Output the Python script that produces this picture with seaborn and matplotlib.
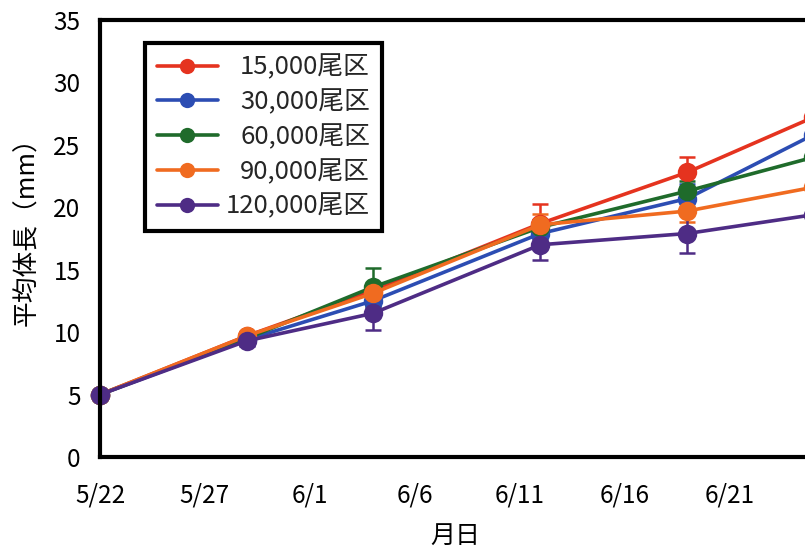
import matplotlib
matplotlib.use("Agg")
import matplotlib.pyplot as plt
from matplotlib.lines import Line2D
import seaborn as sns
import pandas as pd

# ---- data ----
dates = ["2010-05-22", "2010-05-29", "2010-06-04", "2010-06-12", "2010-06-19", "2010-06-25"]
groups = ["15,000尾区", "30,000尾区", "60,000尾区", "90,000尾区", "120,000尾区"]
len_15000 = [5.0, 9.7, 13.3, 18.7, 22.8, 27.2]
len_30000 = [5.0, 9.4, 12.5, 17.9, 20.7, 25.8]
len_60000 = [5.0, 9.5, 13.6, 18.4, 21.3, 24.0]
len_90000 = [5.0, 9.7, 13.1, 18.6, 19.7, 21.6]
len_120000 = [5.0, 9.3, 11.5, 17.0, 17.9, 19.4]
err_15000 = [0.1, 0.3, 0.5, 1.6, 1.2, 1.8]
err_30000 = [0.1, 0.3, 0.5, 0.7, 1.2, 0.8]
err_60000 = [0.1, 0.3, 1.5, 0.6, 0.8, 0.8]
err_90000 = [0.1, 0.3, 0.5, 0.9, 0.9, 0.8]
err_120000 = [0.1, 0.4, 1.3, 1.2, 1.6, 0.8]
tick_dates = ["2010-05-22", "2010-05-27", "2010-06-01", "2010-06-06",
              "2010-06-11", "2010-06-16", "2010-06-21"]
tick_labels = ["5/22", "5/27", "6/1", "6/6", "6/11", "6/16", "6/21"]
y_ticks = [0, 5, 10, 15, 20, 25, 30, 35]

colors = ["#E5331F", "#2C4DB3", "#1F6B2B", "#F06B20", "#4E2C85"]

series = [len_15000, len_30000, len_60000, len_90000, len_120000]
errors = [err_15000, err_30000, err_60000, err_90000, err_120000]

rows = []
for g, vals, errs in zip(groups, series, errors):
    for d, v, e in zip(dates, vals, errs):
        rows.append({"date": pd.Timestamp(d), "length": v, "err": e, "group": g})
df = pd.DataFrame(rows)

sns.set_theme(style="white")
plt.rcParams["font.family"] = ["Noto Sans CJK JP", "DejaVu Sans"]

fig = plt.figure(figsize=(8.05, 5.5), dpi=100)
ax = fig.add_axes([100 / 805, 93 / 550, 776 / 805, 437 / 550])

# error bars beneath the markers
for g, c in zip(groups, colors):
    sub = df[df["group"] == g]
    ax.errorbar(sub["date"], sub["length"], yerr=sub["err"], fmt="none",
                ecolor=c, elinewidth=1.8, capsize=6, capthick=1.8,
                zorder=1.5, clip_on=False)

sns.lineplot(data=df, x="date", y="length", hue="group", hue_order=groups,
             palette=colors, marker="o", markersize=14, markeredgewidth=0,
             linewidth=2.6, legend=False, ax=ax, clip_on=False, zorder=2)

ax.set_ylim(0, 35)
ax.set_xlim(pd.Timestamp("2010-05-22"), pd.Timestamp("2010-06-28"))
ax.set_yticks(y_ticks)
ax.set_yticklabels([str(v) for v in y_ticks])
ax.set_xticks([pd.Timestamp(d) for d in tick_dates])
ax.set_xticklabels(tick_labels)

ax.tick_params(axis="both", direction="in", length=6, width=2.5,
               labelsize=17.5, colors="black", labelcolor="black")
ax.tick_params(axis="y", pad=14)
ax.tick_params(axis="x", pad=18.5)

for side in ["left", "bottom", "top"]:
    ax.spines[side].set_linewidth(3)
    ax.spines[side].set_color("black")
ax.spines["right"].set_visible(False)

ax.set_xlabel("月日", fontsize=18, color="black")
ax.xaxis.set_label_coords(355 / 776, -0.150)
ax.xaxis.label.set_va("top")
ax.set_ylabel("平均体長（mm）", fontsize=18.5, color="black")
ax.yaxis.set_label_coords(-60 / 776, 0.530)

handles = [Line2D([], [], color=c, marker="o", markersize=11, markeredgewidth=0,
                  linewidth=2.6) for c in colors]
leg = ax.legend(handles, groups, loc="upper left",
                bbox_to_anchor=(45 / 776, 414 / 437), borderaxespad=0,
                fontsize=18.5, frameon=True, fancybox=False, framealpha=1,
                edgecolor="black", handlelength=2.4, handletextpad=0.3,
                labelspacing=0.34, borderpad=0.45)
leg.get_frame().set_linewidth(3)

# right-align legend labels (shift narrower labels to the right)
fig.canvas.draw()
renderer = fig.canvas.get_renderer()
texts = leg.get_texts()
widths = [t.get_window_extent(renderer).width for t in texts]
wmax = max(widths)
for t, w in zip(texts, widths):
    t.set_position((wmax - w, 0))

fig.savefig("out.png", dpi=100, facecolor="white")
